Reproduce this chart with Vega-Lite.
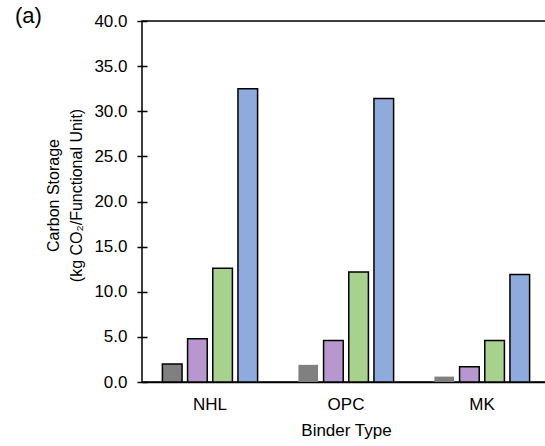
{
  "$schema": "https://vega.github.io/schema/vega-lite/v6.json",
  "width": 408,
  "height": 361,
  "autosize": "none",
  "padding": {"left": 142, "top": 21, "right": 0, "bottom": 64},
  "background": "white",
  "title": {"text": "(a)", "anchor": "start", "frame": "group", "dx": -127, "dy": 33, "fontSize": 22, "font": "Liberation Sans", "fontWeight": "normal", "color": "black", "baseline": "alphabetic", "offset": 0},
  "data": {"values": [
    {"binder": "NHL", "scenario": "S1", "storage": 2.0},
    {"binder": "NHL", "scenario": "S2", "storage": 4.8},
    {"binder": "NHL", "scenario": "S3", "storage": 12.6},
    {"binder": "NHL", "scenario": "S4", "storage": 32.5},
    {"binder": "OPC", "scenario": "S1", "storage": 1.9},
    {"binder": "OPC", "scenario": "S2", "storage": 4.6},
    {"binder": "OPC", "scenario": "S3", "storage": 12.2},
    {"binder": "OPC", "scenario": "S4", "storage": 31.4},
    {"binder": "MK", "scenario": "S1", "storage": 0.6},
    {"binder": "MK", "scenario": "S2", "storage": 1.7},
    {"binder": "MK", "scenario": "S3", "storage": 4.6},
    {"binder": "MK", "scenario": "S4", "storage": 11.9}
  ]},
  "mark": {"type": "bar", "stroke": "black", "strokeWidth": 1.5},
  "encoding": {
    "x": {
      "field": "binder", "type": "nominal", "sort": ["NHL", "OPC", "MK"],
      "scale": {"paddingInner": 0.3, "paddingOuter": 0.15},
      "axis": {"title": "Binder Type", "labelAngle": 0, "ticks": false, "labelPadding": 14, "labelFontSize": 17, "labelColor": "black", "titleFontSize": 17, "titleFontWeight": "normal", "titleColor": "black", "titlePadding": 10, "domainColor": "black", "domainWidth": 1.5, "labelFont": "Liberation Sans", "titleFont": "Liberation Sans"}
    },
    "xOffset": {"field": "scenario", "type": "nominal", "sort": ["S1", "S2", "S3", "S4"], "scale": {"paddingInner": 0.22, "paddingOuter": 0}},
    "y": {
      "field": "storage", "type": "quantitative",
      "scale": {"domain": [0, 40], "nice": false},
      "axis": {"title": ["Carbon Storage", "(kg CO₂/Functional Unit)"], "values": [0, 5, 10, 15, 20, 25, 30, 35, 40], "format": ".1f", "grid": false, "domain": false, "offset": -5, "tickSize": 10, "tickColor": "black", "tickWidth": 1.5, "labelPadding": 10, "labelFontSize": 17, "labelColor": "black", "titleFontSize": 16, "titleFontWeight": "normal", "titleColor": "black", "titleLineHeight": 23, "titlePadding": 9, "titleY": 174, "labelFont": "Liberation Sans", "titleFont": "Liberation Sans"}
    },
    "color": {"field": "scenario", "type": "nominal", "scale": {"domain": ["S1", "S2", "S3", "S4"], "range": ["#808080", "#B897CE", "#A9D18E", "#8FAADC"]}, "legend": null},
    "strokeOpacity": {"condition": {"test": "datum.binder !== 'NHL' && datum.scenario === 'S1'", "value": 0}, "value": 1}
  },
  "config": {"view": {"stroke": "black", "strokeWidth": 1.5}, "font": "Liberation Sans"}
}
